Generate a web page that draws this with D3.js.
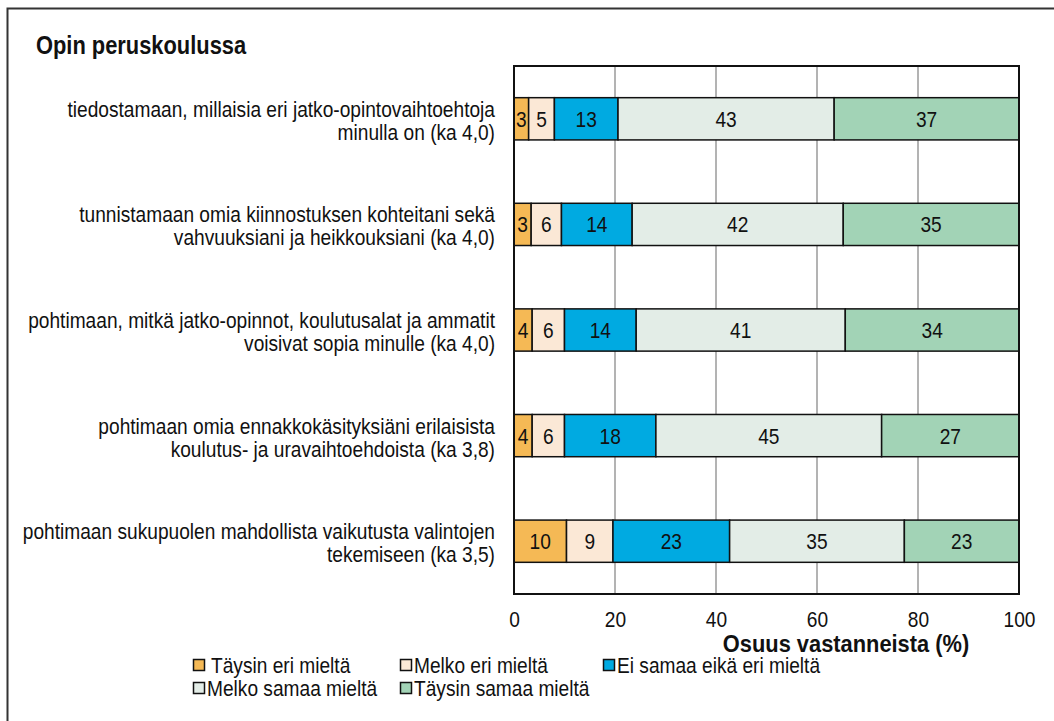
<!DOCTYPE html>
<html lang="fi">
<head>
<meta charset="UTF-8">
<title>Opin peruskoulussa</title>
<style>
  body { margin: 0; background: #fff; }
  svg { display: block; }
  text { font-family: "Liberation Sans", Arial, sans-serif; fill: #111; }
  .grid line { stroke: #9a9a9a; stroke-width: 1.5px; }
  .seg { stroke: #111; stroke-width: 1.5px; }
  .bold { font-weight: bold; }
</style>
</head>
<body>
<svg></svg>
<script src="https://d3js.org/d3.v7.min.js"></script>
<script>
// statements (two lines each)
const items = [
  ["tiedostamaan, millaisia eri jatko-opintovaihtoehtoja", "minulla on (ka 4,0)"],
  ["tunnistamaan omia kiinnostuksen kohteitani sekä", "vahvuuksiani ja heikkouksiani (ka 4,0)"],
  ["pohtimaan, mitkä jatko-opinnot, koulutusalat ja ammatit", "voisivat sopia minulle (ka 4,0)"],
  ["pohtimaan omia ennakkokäsityksiäni erilaisista", "koulutus- ja uravaihtoehdoista (ka 3,8)"],
  ["pohtimaan sukupuolen mahdollista vaikutusta valintojen", "tekemiseen (ka 3,5)"]
];

// share of respondents (%), one array per answer option
const taysinEri   = [2.9, 3.4, 3.6, 3.6, 10.4];
const melkoEri    = [5.1, 6.0, 6.4, 6.4, 9.2];
const eiSamaa     = [12.6, 14.0, 14.2, 18.1, 23.1];
const melkoSamaa  = [42.8, 41.8, 41.4, 44.7, 34.6];
const taysinSamaa = [36.6, 34.8, 34.4, 27.2, 22.7];

const seriesNames = ["Täysin eri mieltä", "Melko eri mieltä", "Ei samaa eikä eri mieltä",
                     "Melko samaa mieltä", "Täysin samaa mieltä"];
const colors = ["#f5b955", "#fbe8d6", "#00aae1", "#e3ede7", "#a2d3b6"];
const xTicks = [0, 20, 40, 60, 80, 100];

const width = 1054, height = 721;
const FS = 22, NARROW = 0.87;   // Arial Narrow look: regular face squeezed sideways

const svg = d3.select("svg").attr("width", width).attr("height", height);

// put a text at (px, py) and squeeze it horizontally
function squeeze(sel, px, py, sx = NARROW) {
  return sel.attr("x", 0)
    .attr("transform", (d, i) => `translate(${typeof px === "function" ? px(d, i) : px},${typeof py === "function" ? py(d, i) : py}) scale(${sx},1)`);
}

// outer frame (right and bottom edges fall outside the picture)
svg.append("rect")
  .attr("x", 7.5).attr("y", 8.5).attr("width", 1100).attr("height", 800)
  .attr("fill", "none").attr("stroke", "#333").attr("stroke-width", 2);

squeeze(svg.append("text").attr("class", "bold").style("font-size", "25px")
  .text("Opin peruskoulussa"), 36, 54, 0.875);

const plot = { left: 514, right: 1019, top: 66, bottom: 594 };

const x = d3.scaleLinear().domain([0, 100]).range([plot.left, plot.right]);
const y = d3.scaleBand().domain(d3.range(items.length))
  .range([plot.top, plot.bottom]).paddingInner(0.6).paddingOuter(0.3);

// table for the stack
const rows = items.map((d, i) => ({
  i: i,
  s0: taysinEri[i], s1: melkoEri[i], s2: eiSamaa[i], s3: melkoSamaa[i], s4: taysinSamaa[i]
}));
const stack = d3.stack().keys(["s0", "s1", "s2", "s3", "s4"])(rows);

// grid lines
svg.append("g").attr("class", "grid")
  .selectAll("line").data(xTicks.slice(1, -1)).enter().append("line")
  .attr("x1", d => x(d)).attr("x2", d => x(d))
  .attr("y1", plot.top).attr("y2", plot.bottom);

// bars
const layer = svg.append("g").selectAll("g").data(stack).enter().append("g")
  .attr("fill", (d, k) => colors[k]);

layer.selectAll("rect").data(d => d).enter().append("rect")
  .attr("class", "seg")
  .attr("x", d => x(d[0]))
  .attr("width", d => x(d[1]) - x(d[0]))
  .attr("y", d => y(d.data.i))
  .attr("height", y.bandwidth());

squeeze(layer.selectAll("text").data(d => d).enter().append("text")
  .attr("text-anchor", "middle")
  .style("font-size", FS + "px")
  .text(d => d3.format(".0f")(d[1] - d[0])),
  d => (x(d[0]) + x(d[1])) / 2,
  d => y(d.data.i) + y.bandwidth() / 2 + 8);

// plot frame
svg.append("rect")
  .attr("x", plot.left).attr("y", plot.top)
  .attr("width", plot.right - plot.left).attr("height", plot.bottom - plot.top)
  .attr("fill", "none").attr("stroke", "#111").attr("stroke-width", 2);

// x axis
const xAxis = svg.append("g")
  .attr("transform", `translate(0,${plot.bottom})`)
  .call(d3.axisBottom(x).tickValues(xTicks).tickSize(0).tickPadding(0));
xAxis.select(".domain").remove();
xAxis.selectAll("text")
  .style("font-size", FS + "px").style("font-family", null).attr("fill", "#111")
  .attr("dy", null).attr("y", 0)
  .attr("transform", `translate(0,33) scale(${NARROW},1)`);

squeeze(svg.append("text").attr("class", "bold")
  .attr("text-anchor", "middle")
  .style("font-size", "23px")
  .text("Osuus vastanneista (%)"), 846, 652, 0.95);

// category labels
const cat = squeeze(svg.append("g").selectAll("text").data(items).enter().append("text")
  .attr("text-anchor", "end")
  .style("font-size", FS + "px"),
  495, (d, i) => y(i) + y.bandwidth() / 2 - 2);
cat.append("tspan").attr("x", 0).text(d => d[0]);
cat.append("tspan").attr("x", 0).attr("dy", 23).text(d => d[1]);

// legend
const legendPos = [[193, 665], [400, 665], [603, 665], [193, 688], [400, 688]];
const leg = svg.append("g").selectAll("g").data(seriesNames).enter().append("g")
  .attr("transform", (d, k) => `translate(${legendPos[k][0]},${legendPos[k][1]})`);
leg.append("rect")
  .attr("x", 0.5).attr("y", -5.5).attr("width", 11).attr("height", 11)
  .attr("fill", (d, k) => colors[k]).attr("stroke", "#111").attr("stroke-width", 1.5);
squeeze(leg.append("text")
  .style("font-size", FS + "px")
  .text(d => d),
  (d, k) => k === 0 ? 18 : 14, 8);
</script>
</body>
</html>
